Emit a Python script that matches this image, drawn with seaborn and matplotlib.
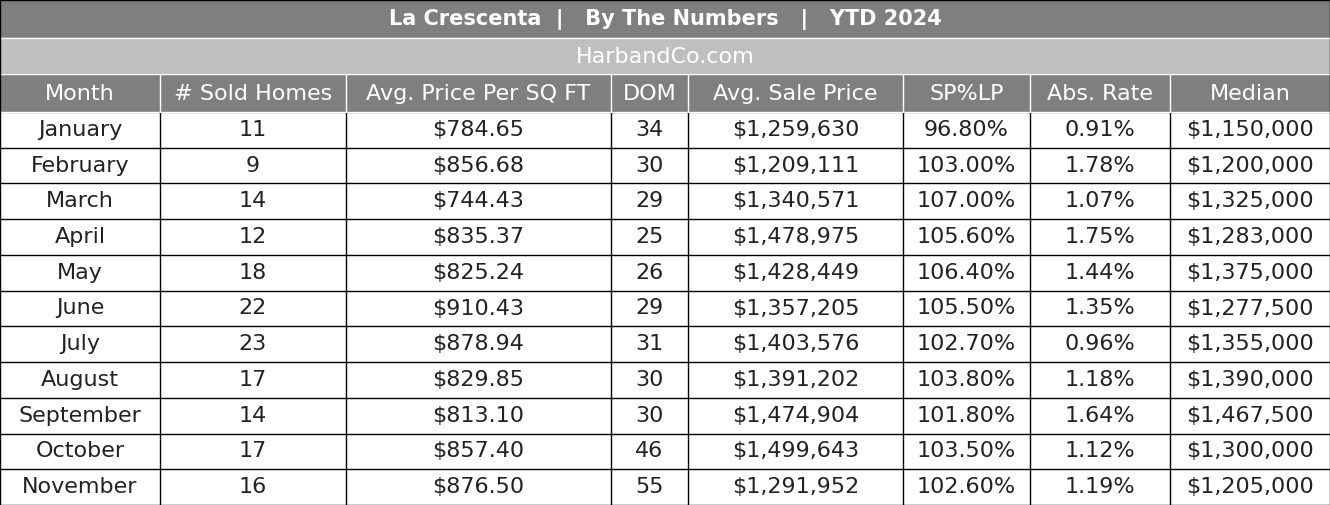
import matplotlib
matplotlib.use("Agg")
import matplotlib.pyplot as plt
from matplotlib.patches import Rectangle
import seaborn as sns

sns.set_theme(style="white", font="DejaVu Sans")

title = "La Crescenta  |   By The Numbers   |   YTD 2024"
subtitle = "HarbandCo.com"
columns = ["Month", "# Sold Homes", "Avg. Price Per SQ FT", "DOM",
           "Avg. Sale Price", "SP%LP", "Abs. Rate", "Median"]
months = ["January", "February", "March", "April", "May", "June", "July",
          "August", "September", "October", "November"]
sold = [11, 9, 14, 12, 18, 22, 23, 17, 14, 17, 16]
ppsf = ["$784.65", "$856.68", "$744.43", "$835.37", "$825.24", "$910.43",
        "$878.94", "$829.85", "$813.10", "$857.40", "$876.50"]
dom = [34, 30, 29, 25, 26, 29, 31, 30, 30, 46, 55]
avg_price = ["$1,259,630", "$1,209,111", "$1,340,571", "$1,478,975", "$1,428,449",
             "$1,357,205", "$1,403,576", "$1,391,202", "$1,474,904", "$1,499,643",
             "$1,291,952"]
splp = ["96.80%", "103.00%", "107.00%", "105.60%", "106.40%", "105.50%",
        "102.70%", "103.80%", "101.80%", "103.50%", "102.60%"]
abs_rate = ["0.91%", "1.78%", "1.07%", "1.75%", "1.44%", "1.35%", "0.96%",
            "1.18%", "1.64%", "1.12%", "1.19%"]
median = ["$1,150,000", "$1,200,000", "$1,325,000", "$1,283,000", "$1,375,000",
          "$1,277,500", "$1,355,000", "$1,390,000", "$1,467,500", "$1,300,000",
          "$1,205,000"]

W, H = 1330, 505
edges = [0, 160, 346, 611, 688, 903, 1030, 1170, 1330]
dark, light = "#7f7f7f", "#bfbfbf"

fig = plt.figure(figsize=(13.3, 5.05), dpi=100)
ax = fig.add_axes([0, 0, 1, 1])
ax.set_xlim(0, W)
ax.set_ylim(H, 0)
ax.axis("off")

# title bands
ax.add_patch(Rectangle((0, 0), W, 38, color=dark))
ax.text(W / 2, 20, title, ha="center", va="center", color="white",
        fontsize=15, fontweight="bold")
ax.add_patch(Rectangle((0, 38), W, 36, color=light))
ax.text(W / 2, 57, subtitle, ha="center", va="center", color="white", fontsize=16)
ax.add_patch(Rectangle((0, 74), W, 38, color=dark))
for i, c in enumerate(columns):
    ax.text((edges[i] + edges[i + 1]) / 2, 94, c, ha="center", va="center",
            color="white", fontsize=16)

rows = list(zip(months, sold, ppsf, dom, avg_price, splp, abs_rate, median))
top = 112
rh = (H - top) / len(rows)
for r, row in enumerate(rows):
    yc = top + rh * (r + 0.5)
    for i, v in enumerate(row):
        ax.text((edges[i] + edges[i + 1]) / 2, yc, str(v), ha="center",
                va="center", color="#222222", fontsize=16)
    ax.plot([0, W], [top + rh * (r + 1)] * 2, color="black", lw=1)

for y in [0, 38, 74, 112]:
    ax.plot([0, W], [y, y], color="white" if y else "black", lw=1)
for x in edges:
    ax.plot([x, x], [112 if 0 < x < W else 0, H], color="black", lw=1)
for x in edges[1:-1]:
    ax.plot([x, x], [74, 112], color="white", lw=1)

fig.savefig("out.png", dpi=100)
